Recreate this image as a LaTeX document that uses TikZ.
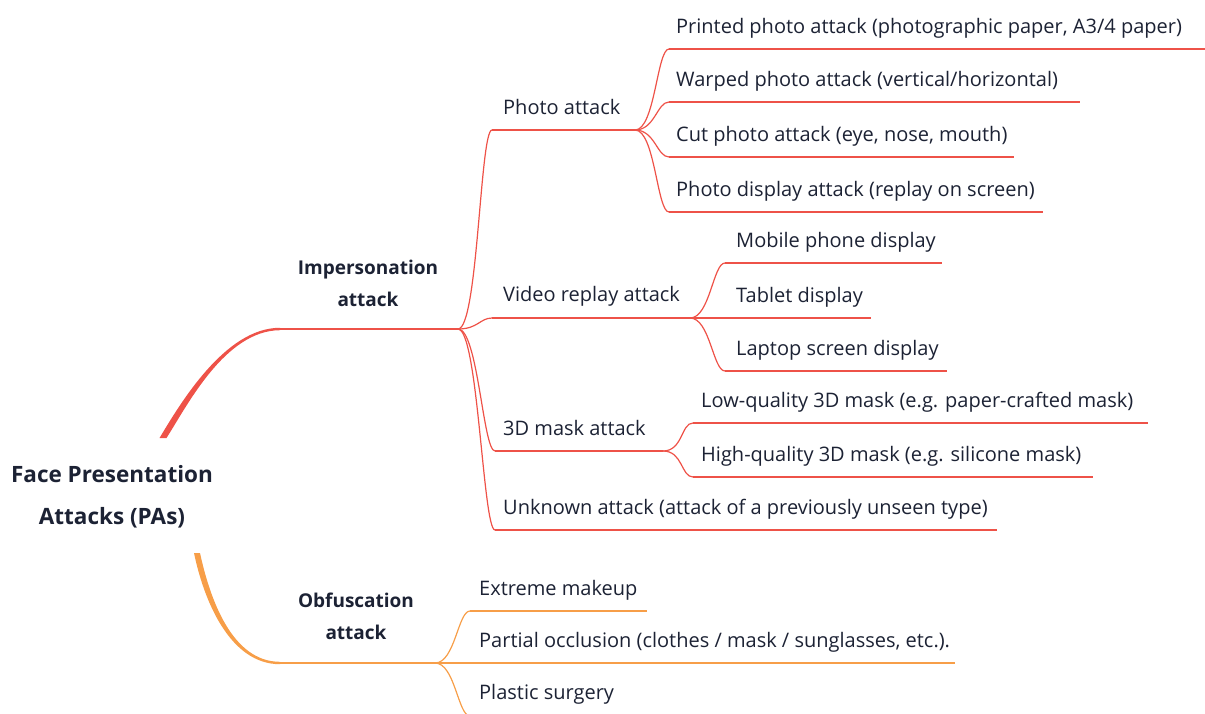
\documentclass[tikz,border=0pt]{standalone}
\usepackage{fontspec}
\setmainfont{Open Sans}
\usetikzlibrary{calc}
\definecolor{redl}{RGB}{238,82,72}
\definecolor{orl}{RGB}{247,158,72}
\definecolor{txt}{RGB}{28,34,52}
\newcommand\conn[3]{\draw[#1] (#2) .. controls +(20,0) and +(-12,0) .. (#3);}
\begin{document}
\begin{tikzpicture}[x=1pt,y=-1pt,
  lbl/.style={anchor=base west, inner sep=0pt, text=txt, font=\fontsize{20}{24}\selectfont},
  hd/.style={align=center, inner sep=0pt, text=txt, font=\bfseries\fontsize{19}{32}\selectfont},
  rl/.style={draw=redl, line width=1.2pt},
  ol/.style={draw=orl, line width=1.2pt}]
\useasboundingbox (0,0) rectangle (1205,713);

% root
\node[align=center, inner sep=0pt, text=txt, font=\bfseries\fontsize{22.5}{42}\selectfont] (root) at (112,497) {Face Presentation\\Attacks (PAs)};
\coordinate (rootT) at (163,438);
\coordinate (rootB) at (197,553);

% level 1
\coordinate (imp-s) at (280,329); \coordinate (imp-e) at (458,329);
\coordinate (obf-s) at (280,663); \coordinate (obf-e) at (435,663);
\node[hd] (imp) at (368,283) {Impersonation\\attack};
\node[hd] (obf) at (356,616) {Obfuscation\\attack};

\fill[redl] ($(rootT)+(-3.5,0)$) .. controls (180,404) and (225,327.6) .. ($(imp-s)+(0,-1.2)$)
  -- ($(imp-s)+(0,1.2)$) .. controls (225,330.4) and (187,406) .. ($(rootT)+(3.5,0)$) -- cycle;
\fill[orl] ($(rootB)+(-3,0)$) .. controls (204,601) and (230,664.2) .. ($(obf-s)+(0,1.2)$)
  -- ($(obf-s)+(0,-1.2)$) .. controls (232,661.8) and (210,599) .. ($(rootB)+(3,0)$) -- cycle;
\draw[rl] (imp-s) -- (imp-e);
\draw[ol] (obf-s) -- (obf-e);

% level 2 (impersonation)
\coordinate (pa-s) at (492,130); \coordinate (pa-e) at (635,130);
\coordinate (vr-s) at (492,318); \coordinate (vr-e) at (690,318);
\coordinate (md-s) at (495,451); \coordinate (md-e) at (663,451);
\coordinate (un-s) at (495,530); \coordinate (un-e) at (997,530);
\node[lbl] (pa) at (503,114) {Photo attack};
\node[lbl] (vr) at (503,301) {Video replay attack};
\node[lbl] (md) at (503,435) {3D mask attack};
\node[lbl] (un) at (503,514) {Unknown attack (attack of a previously unseen type)};
\foreach \n in {pa,vr,md,un}{
  \conn{rl}{imp-e}{\n-s}
  \draw[rl] (\n-s) -- (\n-e);
}

% photo attack children
\coordinate (pp-s) at (669,49);  \coordinate (pp-e) at (1205,49);
\coordinate (wp-s) at (669,102); \coordinate (wp-e) at (1080,102);
\coordinate (cp-s) at (669,157); \coordinate (cp-e) at (1014,157);
\coordinate (pd-s) at (669,212); \coordinate (pd-e) at (1043,212);
\node[lbl] (pp) at (676,33) {Printed photo attack (photographic paper, A3/4 paper)};
\node[lbl] (wp) at (676,86) {Warped photo attack (vertical/horizontal)};
\node[lbl] (cp) at (676,141) {Cut photo attack (eye, nose, mouth)};
\node[lbl] (pd) at (676,196) {Photo display attack (replay on screen)};
\foreach \n in {pp,wp,cp,pd}{
  \conn{rl}{pa-e}{\n-s}
  \draw[rl] (\n-s) -- (\n-e);
}

% video replay children
\coordinate (mp-s) at (725,263); \coordinate (mp-e) at (942,263);
\coordinate (tb-s) at (725,318); \coordinate (tb-e) at (871,318);
\coordinate (lp-s) at (725,371); \coordinate (lp-e) at (947,371);
\node[lbl] (mp) at (736,247) {Mobile phone display};
\node[lbl] (tb) at (736,302) {Tablet display};
\node[lbl] (lp) at (736,355) {Laptop screen display};
\foreach \n in {mp,tb,lp}{
  \conn{rl}{vr-e}{\n-s}
  \draw[rl] (\n-s) -- (\n-e);
}

% 3D mask children
\coordinate (lq-s) at (693,423); \coordinate (lq-e) at (1148,423);
\coordinate (hq-s) at (693,477); \coordinate (hq-e) at (1093,477);
\node[lbl] (lq) at (701,407) {Low-quality 3D mask (e.g. paper-crafted mask)};
\node[lbl] (hq) at (701,461) {High-quality 3D mask (e.g. silicone mask)};
\foreach \n in {lq,hq}{
  \conn{rl}{md-e}{\n-s}
  \draw[rl] (\n-s) -- (\n-e);
}

% obfuscation children
\coordinate (em-s) at (470,611); \coordinate (em-e) at (647,611);
\coordinate (po-s) at (470,663); \coordinate (po-e) at (955,663);
\coordinate (ps-s) at (470,716); \coordinate (ps-e) at (640,716);
\node[lbl] (em) at (479,595) {Extreme makeup};
\node[lbl] (po) at (479,647) {Partial occlusion (clothes / mask / sunglasses, etc.).};
\node[lbl] (ps) at (479,699) {Plastic surgery};
\foreach \n in {em,po,ps}{
  \conn{ol}{obf-e}{\n-s}
  \draw[ol] (\n-s) -- (\n-e);
}
\end{tikzpicture}
\end{document}
